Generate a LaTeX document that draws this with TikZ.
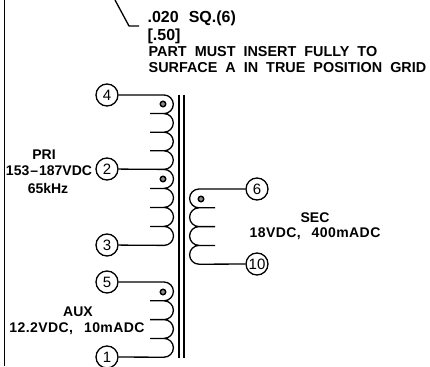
\documentclass[tikz,border=0pt]{standalone}
\usepackage{fontspec}
\setmainfont{Liberation Sans}
\newfontfamily\widefont{Liberation Sans}[LetterSpace=3]
\usepackage{tikz}

\begin{document}
\begin{tikzpicture}[x=1pt,y=-1pt,line width=1.3pt,
                    pin node/.style={circle,draw,fill=white,minimum size=22pt,inner sep=0pt,font=\fontsize{15}{15}\selectfont},
                    dot node/.style={circle,draw,line width=1.4pt,fill=black!45,minimum size=5.5pt,inner sep=0pt},
                    label node/.style={inner sep=0pt,font=\fontsize{14}{14}\selectfont\bfseries},
                    wide node/.style={inner sep=0pt,font=\fontsize{14}{14}\widefont\bfseries},
                    note node/.style={label node,anchor=west,font=\fontsize{14.4}{14.4}\selectfont\bfseries},
                    dim node/.style={label node,anchor=west,font=\fontsize{16}{16}\selectfont\bfseries}]
  \useasboundingbox (0,0) rectangle (430,366);

  % border and leader
  \coordinate (bt) at (4.5,0);
  \coordinate (bb) at (4.5,366);
  \draw[line width=1.8pt] (bt) -- (bb);
  \coordinate (la) at (115,0);
  \coordinate (lb) at (129,26);
  \coordinate (lc) at (139,26);
  \draw (la) -- (lb) -- (lc);

  % core
  \coordinate (c1t) at (179,95);
  \coordinate (c1b) at (179,358);
  \coordinate (c2t) at (184,95);
  \coordinate (c2b) at (184,358);
  \draw (c1t) -- (c1b);
  \draw (c2t) -- (c2b);

  % pins
  \node[pin node] (4) at (107,95) {4};
  \node[pin node] (2) at (107,169) {2};
  \node[pin node] (3) at (107,245) {3};
  \node[pin node] (5) at (107,282) {5};
  \node[pin node] (1) at (107,357) {1};
  \node[pin node] (6) at (257,189) {6};
  \node[pin node] (10) at (257,264) {10};

  % primary, upper half
  \coordinate (a0) at (164,95);
  \draw (4) -- (a0) arc[start angle=-90,end angle=90,radius=9.3] -- ++(-14,0) coordinate (a1)
        ++(14,0) arc[start angle=-90,end angle=90,radius=9.3] -- ++(-14,0) coordinate (a2)
        ++(14,0) arc[start angle=-90,end angle=90,radius=9.3] -- ++(-14,0) coordinate (a3)
        ++(14,0) arc[start angle=-90,end angle=90,radius=9.3] coordinate (a4);
  \draw (2) -- (a4);
  % primary, lower half
  \draw (a4) arc[start angle=-90,end angle=90,radius=9.5] -- ++(-14,0) coordinate (b1)
        ++(14,0) arc[start angle=-90,end angle=90,radius=9.5] -- ++(-14,0) coordinate (b2)
        ++(14,0) arc[start angle=-90,end angle=90,radius=9.5] -- ++(-14,0) coordinate (b3)
        ++(14,0) arc[start angle=-90,end angle=90,radius=9.5] coordinate (b4);
  \draw (3) -- (b4);
  % aux
  \coordinate (d0) at (164,282);
  \draw (5) -- (d0) arc[start angle=-90,end angle=90,radius=9.4] -- ++(-14,0) coordinate (d1)
        ++(14,0) arc[start angle=-90,end angle=90,radius=9.4] -- ++(-14,0) coordinate (d2)
        ++(14,0) arc[start angle=-90,end angle=90,radius=9.4] -- ++(-14,0) coordinate (d3)
        ++(14,0) arc[start angle=-90,end angle=90,radius=9.4] coordinate (d4);
  \draw (1) -- (d4);
  % sec
  \coordinate (e0) at (199,189);
  \draw (6) -- (e0) arc[start angle=-90,end angle=-270,radius=9.4] -- ++(16,0) coordinate (e1)
        ++(-16,0) arc[start angle=-90,end angle=-270,radius=9.4] -- ++(16,0) coordinate (e2)
        ++(-16,0) arc[start angle=-90,end angle=-270,radius=9.4] -- ++(16,0) coordinate (e3)
        ++(-16,0) arc[start angle=-90,end angle=-270,radius=9.4] coordinate (e4);
  \draw (10) -- (e4);

  % phase dots
  \node[dot node] (dot4) at (163,104) {};
  \node[dot node] (dot2) at (163,179) {};
  \node[dot node] (dot5) at (163,292) {};
  \node[dot node] (dot6) at (201,199) {};

  % labels
  \node[dim node] (n1) at (147,18) {.020\hspace{10pt}SQ.(6)};
  \node[dim node] (n2) at (147,36) {[.50]};
  \node[note node] (n3) at (148,52) {PART\ \ MUST\ \ INSERT\ \ FULLY\ \ TO};
  \node[note node] (n4) at (148,68) {SURFACE\ \ A\ \ IN\ \ TRUE\ \ POSITION\ \ GRID};
  \node[label node] (pri) at (44,155) {PRI};
  \node[label node] (priv) at (49,171) {153\hspace{1pt}--\hspace{1pt}187VDC};
  \node[label node] (prif) at (48,188) {65kHz};
  \node[label node] (aux) at (78,312) {AUX};
  \node[wide node] (auxv) at (77,329) {12.2VDC,\hspace{11pt}10mADC};
  \node[label node] (sec) at (315,218) {SEC};
  \node[wide node] (secv) at (315,234) {18VDC,\hspace{11pt}400mADC};
\end{tikzpicture}
\end{document}
